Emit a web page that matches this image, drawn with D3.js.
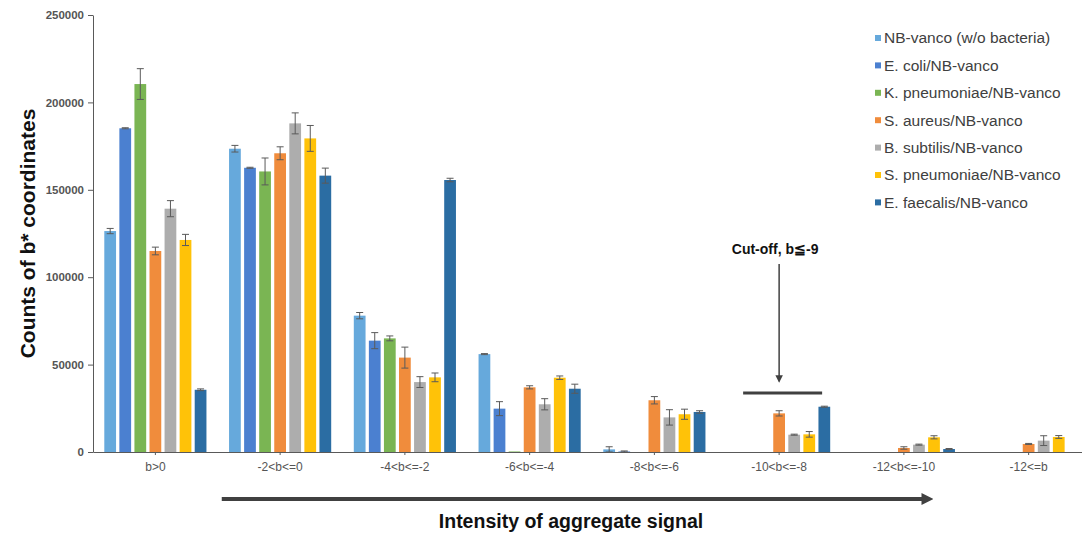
<!DOCTYPE html>
<html>
<head>
<meta charset="utf-8">
<script src="https://cdn.jsdelivr.net/npm/d3@7"></script>
<style>
    body { margin: 0; background: #fff; }
    svg  { display: block; font-family: "Liberation Sans", Arial, sans-serif; }
</style>
</head>
<body>
<svg id="chart" width="1082" height="537"></svg>
<script>
//chart.js

const categories = ['b>0', '-2<b<=0', '-4<b<=-2', '-6<b<=-4', '-8<b<=-6', '-10<b<=-8', '-12<b<=-10', '-12<=b']

const seriesNames = [
    'NB-vanco (w/o bacteria)', 'E. coli/NB-vanco', 'K. pneumoniae/NB-vanco',
    'S. aureus/NB-vanco', 'B. subtilis/NB-vanco', 'S. pneumoniae/NB-vanco',
    'E. faecalis/NB-vanco'
]
const seriesColors = ['#66a9dc', '#4b80d0', '#7ab553', '#f08c3c', '#adadad', '#ffc208', '#2b6da3']

// counts per category, one array for each series
const nbVanco      = [126400, 173500, 78000, 56000, 1500, 0, 0, 0]
const eColi        = [185200, 162600, 63700, 24800, 300, 0, 0, 0]
const kPneumoniae  = [210500, 160500, 65000, 300, 0, 0, 0, 0]
const sAureus      = [115000, 170900, 54000, 37000, 29600, 22100, 2300, 4600]
const bSubtilis    = [139200, 188000, 40000, 27300, 19800, 9900, 4200, 6500]
const sPneumoniae  = [121300, 179400, 42700, 42500, 21600, 10100, 8400, 8600]
const eFaecalis    = [35600, 158100, 155600, 36200, 22900, 25900, 1700, 0]

// error bar half lengths
const nbVancoErr     = [1500, 1900, 1800, 300, 1500, 0, 0, 0]
const eColiErr       = [300, 300, 4600, 4000, 300, 0, 0, 0]
const kPneumoniaeErr = [8800, 7700, 1400, 0, 0, 0, 0, 0]
const sAureusErr     = [2200, 3700, 6000, 900, 2100, 1500, 700, 300]
const bSubtilisErr   = [4600, 6000, 3100, 3200, 4400, 300, 300, 2800]
const sPneumoniaeErr = [3200, 7400, 2500, 1000, 2900, 1600, 900, 800]
const eFaecalisErr   = [500, 4300, 1000, 2600, 700, 300, 300, 0]

const yTicks = [0, 50000, 100000, 150000, 200000, 250000]

const values = [nbVanco, eColi, kPneumoniae, sAureus, bSubtilis, sPneumoniae, eFaecalis]
const errors = [nbVancoErr, eColiErr, kPneumoniaeErr, sAureusErr, bSubtilisErr, sPneumoniaeErr, eFaecalisErr]

const svg = d3.select('#chart')

const x = d3.scaleBand().domain(categories).range([93, 1091])
const xInner = d3.scaleBand().domain(seriesNames).range([0, x.bandwidth()])
    .paddingInner(0.22).paddingOuter(0.75)
const y = d3.scaleLinear().domain([0, 250000]).range([452, 15])
const color = d3.scaleOrdinal().domain(seriesNames).range(seriesColors)

const axisGray = '#595959'

// flat table for the bars
const rows = []
seriesNames.forEach((name, s) => {
    categories.forEach((cat, c) => {
        rows.push({ name, cat, value: values[s][c], err: errors[s][c] })
    })
})

// bars
svg.append('g').selectAll('rect')
    .data(rows.filter(d => d.value > 0))
    .join('rect')
    .attr('x', d => x(d.cat) + xInner(d.name))
    .attr('y', d => y(d.value))
    .attr('width', xInner.bandwidth())
    .attr('height', d => y(0) - y(d.value))
    .attr('fill', d => color(d.name))

// error bars
const errRows = rows.filter(d => d.value > 0 && d.err > 0)
const errG = svg.append('g').attr('stroke', '#5a5a5a').attr('stroke-width', 1)
const cx = d => x(d.cat) + xInner(d.name) + xInner.bandwidth() / 2

errG.selectAll('line.v').data(errRows).join('line').attr('class', 'v')
    .attr('x1', cx).attr('x2', cx)
    .attr('y1', d => y(d.value + d.err)).attr('y2', d => y(d.value - d.err))
errG.selectAll('line.top').data(errRows).join('line').attr('class', 'top')
    .attr('x1', d => cx(d) - 3.5).attr('x2', d => cx(d) + 3.5)
    .attr('y1', d => y(d.value + d.err)).attr('y2', d => y(d.value + d.err))
errG.selectAll('line.bot').data(errRows).join('line').attr('class', 'bot')
    .attr('x1', d => cx(d) - 3.5).attr('x2', d => cx(d) + 3.5)
    .attr('y1', d => y(d.value - d.err)).attr('y2', d => y(d.value - d.err))

// y axis
const yAxis = svg.append('g')
    .attr('transform', `translate(${x.range()[0]},0)`)
    .call(d3.axisLeft(y).tickValues(yTicks).tickSize(5).tickSizeOuter(0).tickFormat(d3.format('d')))
yAxis.selectAll('path, line').attr('stroke', axisGray)
yAxis.selectAll('text')
    .attr('fill', '#555').attr('font-size', 11.5).attr('font-weight', 'bold')
    .attr('font-family', '"Liberation Sans", Arial, sans-serif')
    .attr('x', -9)

// x axis
const xAxis = svg.append('g')
    .attr('transform', `translate(0,${y(0)})`)
    .call(d3.axisBottom(x).tickSize(3).tickSizeOuter(0))
xAxis.selectAll('path, line').attr('stroke', axisGray)
xAxis.selectAll('text')
    .attr('fill', '#555').attr('font-size', 12)
    .attr('font-family', '"Liberation Sans", Arial, sans-serif')
    .attr('y', 10)

// axis titles
svg.append('text')
    .attr('transform', `translate(35,${(y(0) + y(250000)) / 2}) rotate(-90)`)
    .attr('text-anchor', 'middle')
    .attr('font-size', 21).attr('font-weight', 'bold').attr('fill', '#111')
    .text('Counts of b* coordinates')

svg.append('text')
    .attr('x', 571).attr('y', 527.5)
    .attr('text-anchor', 'middle')
    .attr('font-size', 19.5).attr('font-weight', 'bold').attr('fill', '#111')
    .text('Intensity of aggregate signal')

// markers
const defs = svg.append('defs')
defs.append('marker').attr('id', 'headBig')
    .attr('viewBox', '0 0 10 10').attr('refX', 2).attr('refY', 5)
    .attr('markerWidth', 3).attr('markerHeight', 3).attr('orient', 'auto')
    .attr('markerUnits', 'strokeWidth')
    .append('path').attr('d', 'M0,0 L10,5 L0,10 Z').attr('fill', '#404040')
defs.append('marker').attr('id', 'headSmall')
    .attr('viewBox', '0 0 10 10').attr('refX', 8).attr('refY', 5)
    .attr('markerWidth', 5).attr('markerHeight', 5).attr('orient', 'auto')
    .attr('markerUnits', 'strokeWidth')
    .append('path').attr('d', 'M0,0 L10,5 L0,10 Z').attr('fill', '#404040')

// direction arrow under the x axis
svg.append('line')
    .attr('x1', x(categories[1]) + 4)
    .attr('x2', x(categories[6]) + x.bandwidth() / 2 + 20)
    .attr('y1', 499).attr('y2', 499)
    .attr('stroke', '#404040').attr('stroke-width', 4)
    .attr('marker-end', 'url(#headBig)')

// cut-off annotation
const cutX = x('-10<b<=-8') + x.bandwidth() / 2
svg.append('text')
    .attr('x', cutX - 4).attr('y', y(113500))
    .attr('text-anchor', 'middle')
    .attr('font-size', 14).attr('font-weight', 'bold').attr('fill', '#111')
    .text('Cut-off, b≦-9')
svg.append('line')
    .attr('x1', cutX).attr('x2', cutX)
    .attr('y1', y(107500)).attr('y2', y(40500))
    .attr('stroke', '#404040').attr('stroke-width', 1.5)
    .attr('marker-end', 'url(#headSmall)')
svg.append('line')
    .attr('x1', cutX - 36).attr('x2', cutX + 43)
    .attr('y1', y(33800)).attr('y2', y(33800))
    .attr('stroke', '#404040').attr('stroke-width', 3)

// legend
const legend = svg.append('g').attr('transform', 'translate(875,38)')
const item = legend.selectAll('g').data(seriesNames).join('g')
    .attr('transform', (d, i) => `translate(0,${i * 27.4})`)
item.append('rect')
    .attr('x', 0).attr('y', -3).attr('width', 6).attr('height', 6)
    .attr('fill', d => color(d))
item.append('text')
    .attr('x', 9).attr('y', 0).attr('dy', '0.35em')
    .attr('font-size', 15.5).attr('fill', '#404040')
    .text(d => d)
</script>
</body>
</html>
